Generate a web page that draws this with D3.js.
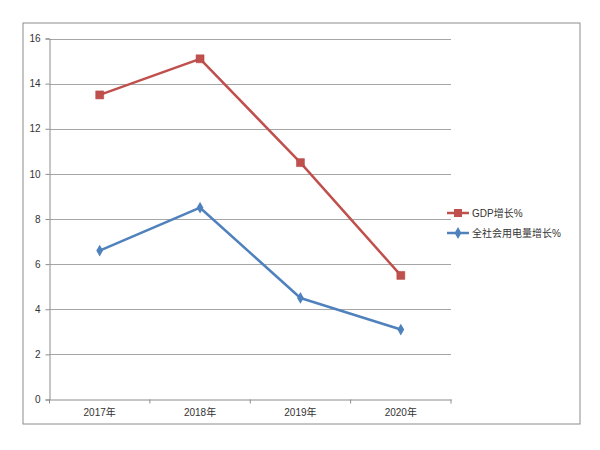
<!DOCTYPE html>
<html><head><meta charset="utf-8">
<script src="https://cdn.jsdelivr.net/npm/d3@7/dist/d3.min.js"></script>
<style>body{margin:0;background:#fff}svg{display:block}</style>
</head><body>
<svg id="chart" width="600" height="450"></svg>
<script>
const categories = ["2017年","2018年","2019年","2020年"];
const gdpValues = [13.5, 15.1, 10.5, 5.5];
const powerValues = [6.6, 8.5, 4.5, 3.1];
const yTicks = [0,2,4,6,8,10,12,14,16];
const seriesNames = ["GDP增长%","全社会用电量增长%"];

const svg = d3.select("#chart");
const font = "'Liberation Sans','Noto Sans CJK SC',sans-serif";
const m = {left:49.5, right:451, top:38.5, bottom:399.5};

// outer border
svg.append("rect").attr("x",23).attr("y",23).attr("width",557).attr("height",401)
  .attr("fill","#fff").attr("stroke","#8c8c8c").attr("stroke-width",1);

const x = d3.scaleBand().domain(categories).range([m.left,m.right]).padding(0);
const y = d3.scaleLinear().domain([0,16]).range([m.bottom,m.top]);

// gridlines
svg.append("g").selectAll("line").data(yTicks.filter(d=>d>0)).join("line")
  .attr("x1",m.left).attr("x2",m.right)
  .attr("y1",d=>Math.round(y(d))+0.5).attr("y2",d=>Math.round(y(d))+0.5)
  .attr("stroke","#a6a6a6").attr("stroke-width",1);

// y axis
const yAxis = svg.append("g").attr("transform",`translate(${m.left},0)`)
  .call(d3.axisLeft(y).tickValues(yTicks).tickSize(4).tickPadding(5).tickFormat(d3.format("d")));
yAxis.select(".domain").attr("stroke","#8c8c8c");
yAxis.selectAll(".tick line").attr("stroke","#8c8c8c");
yAxis.selectAll("text").attr("font-family",font).attr("font-size",10).attr("fill","#333");

// x axis
const xAxis = svg.append("g").attr("transform",`translate(0,${m.bottom})`)
  .call(d3.axisBottom(x).tickSize(0).tickPadding(9));
xAxis.select(".domain").attr("stroke","#8c8c8c");
xAxis.selectAll("text").attr("font-family",font).attr("font-size",10).attr("fill","#333");
// category boundary ticks
const bounds = categories.map(c=>x(c)).concat([m.right]);
svg.append("g").selectAll("line").data(bounds).join("line")
  .attr("x1",d=>d).attr("x2",d=>d).attr("y1",m.bottom).attr("y2",m.bottom+4)
  .attr("stroke","#8c8c8c");

const cx = c => x(c) + x.bandwidth()/2;
const line = d3.line().x((d,i)=>cx(categories[i])).y(d=>y(d));

const red = "#c0504d", blue = "#4f81bd";
svg.append("path").datum(gdpValues).attr("d",line).attr("fill","none")
  .attr("stroke",red).attr("stroke-width",2.5).attr("stroke-linejoin","round");
svg.append("path").datum(powerValues).attr("d",line).attr("fill","none")
  .attr("stroke",blue).attr("stroke-width",2.5).attr("stroke-linejoin","round");

const sq = d3.symbol().type(d3.symbolSquare).size(64);
const dm = d3.symbol().type(d3.symbolDiamond).size(40);
svg.append("g").selectAll("path").data(gdpValues).join("path")
  .attr("d",sq).attr("transform",(d,i)=>`translate(${cx(categories[i])},${y(d)})`)
  .attr("fill",red).attr("stroke","#b04541").attr("stroke-width",0.5);
svg.append("g").selectAll("path").data(powerValues).join("path")
  .attr("d",dm).attr("transform",(d,i)=>`translate(${cx(categories[i])},${y(d)})`)
  .attr("fill",blue);

// legend
const lg = svg.append("g");
const rows = [{name:seriesNames[0],color:red,sym:sq,yy:213},{name:seriesNames[1],color:blue,sym:dm,yy:233}];
rows.forEach(r=>{
  lg.append("line").attr("x1",447).attr("x2",469).attr("y1",r.yy).attr("y2",r.yy)
    .attr("stroke",r.color).attr("stroke-width",2.5);
  lg.append("path").attr("d",r.sym).attr("transform",`translate(458,${r.yy})`).attr("fill",r.color);
  lg.append("text").attr("x",472).attr("y",r.yy).attr("dy","0.35em")
    .attr("font-family",font).attr("font-size",10).attr("fill","#333").text(r.name);
});
</script>
</body></html>
